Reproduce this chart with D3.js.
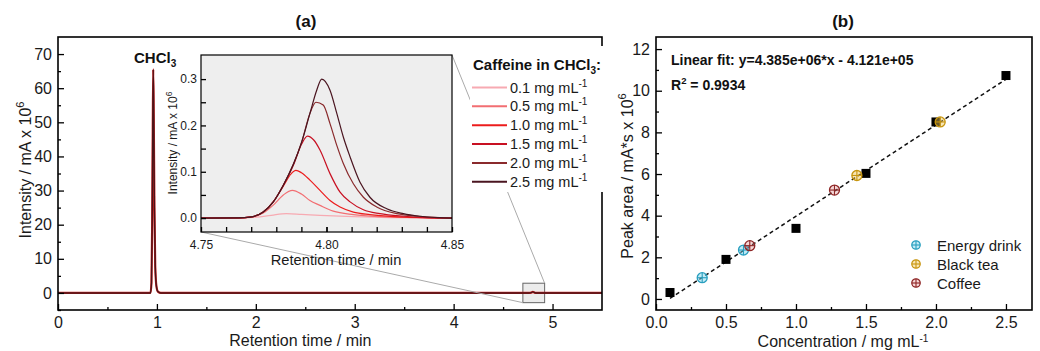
<!DOCTYPE html>
<html><head><meta charset="utf-8">
<script src="https://cdn.jsdelivr.net/npm/d3@7"></script>
<style>
body{margin:0;background:#fff;}
svg{font-family:"Liberation Sans",Arial,sans-serif;}
</style>
</head><body>
<svg id="c" width="1040" height="351"></svg>
<script>
// ---------------- DATA ----------------
// Panel (a): full chromatogram (min, mA x 10^6)
const mainTime      = [0, 0.90, 0.935, 0.945, 0.952, 0.958, 0.963, 0.968, 0.975, 0.983, 0.995, 1.01, 1.04, 4.76, 4.785, 4.80, 4.83, 5.5];
const mainIntensity = [0, 0,    0,     3,     20,    48,    65.5,  52,    25,    8,     2,     0.4,  0,    0,    0.1,   0.3,  0,    0];

// Inset: caffeine peaks for each concentration [time, intensity]
const concLabels = ["0.1", "0.5", "1.0", "1.5", "2.0", "2.5"];
const trace01 = [[4.75,0],[4.765,0],[4.772,0.002],[4.778,0.006],[4.784,0.0095],[4.790,0.008],[4.7974,0.006],[4.8107,0.003],[4.825,0.001],[4.85,0]];
const trace05 = [[4.75,0],[4.765,0.0005],[4.770,0.002],[4.7748,0.011],[4.7788,0.028],[4.7828,0.050],[4.7864,0.060],[4.790,0.052],[4.7934,0.038],[4.7974,0.0275],[4.8027,0.015],[4.8107,0.0075],[4.8213,0.003],[4.835,0.001],[4.85,0]];
const trace10 = [[4.75,0],[4.765,0.0005],[4.7695,0.002],[4.7748,0.013],[4.7788,0.035],[4.7828,0.069],[4.7858,0.095],[4.7878,0.103],[4.790,0.098],[4.7934,0.082],[4.7974,0.060],[4.8014,0.038],[4.8054,0.024],[4.8107,0.013],[4.8173,0.0075],[4.827,0.003],[4.838,0.001],[4.85,0]];
const trace15 = [[4.75,0],[4.765,0.0005],[4.7695,0.002],[4.7748,0.013],[4.7788,0.035],[4.7828,0.071],[4.7868,0.114],[4.7901,0.160],[4.7924,0.177],[4.7950,0.168],[4.7974,0.147],[4.8014,0.096],[4.8054,0.056],[4.8094,0.035],[4.8147,0.018],[4.8213,0.0095],[4.8306,0.004],[4.840,0.001],[4.85,0]];
const trace20 = [[4.75,0],[4.765,0.0005],[4.7695,0.002],[4.7748,0.013],[4.7788,0.035],[4.7828,0.071],[4.7868,0.116],[4.7901,0.164],[4.7934,0.226],[4.7958,0.250],[4.7987,0.244],[4.8014,0.204],[4.8041,0.157],[4.8067,0.118],[4.8107,0.074],[4.8147,0.045],[4.820,0.024],[4.828,0.0095],[4.837,0.004],[4.845,0.001],[4.85,0]];
const trace25 = [[4.75,0],[4.765,0.0005],[4.7695,0.002],[4.7748,0.013],[4.7788,0.035],[4.7828,0.071],[4.7868,0.116],[4.7901,0.164],[4.7934,0.226],[4.7961,0.276],[4.7981,0.300],[4.8014,0.276],[4.8041,0.226],[4.8067,0.175],[4.8094,0.132],[4.8133,0.078],[4.8173,0.045],[4.824,0.020],[4.8306,0.0095],[4.837,0.004],[4.845,0.001],[4.85,0]];
const traceColors = ["#f7aab2", "#f26e72", "#ec1c1c", "#c81022", "#8a2a2c", "#4a1520"];

// Panel (b): calibration (mg/mL, mA*s x 10^6)
const stdConc    = [0.1, 0.5, 1.0, 1.5, 2.0, 2.5];
const stdArea    = [0.31, 1.90, 3.39, 6.03, 8.50, 10.73];
const energyConc = [0.33, 0.625];
const energyArea = [1.02, 2.35];
const teaConc    = [1.435, 2.03];
const teaArea    = [5.93, 8.50];
const coffeeConc = [0.67, 1.275];
const coffeeArea = [2.56, 5.23];
const fitSlope = 4.385, fitIntercept = -0.4121;
const sampleNames  = ["Energy drink", "Black tea", "Coffee"];
const sampleStroke = ["#2a9fbf", "#c89610", "#8e2626"];
const sampleFill   = ["rgba(120,210,235,0.45)", "rgba(240,200,90,0.45)", "rgba(230,140,140,0.35)"];

const xTicksA = [0,1,2,3,4,5];
const yTicksA = [0,10,20,30,40,50,60,70];
const xTicksI = [4.75,4.80,4.85];
const yTicksI = [0.0,0.1,0.2,0.3];
const xTicksB = [0.0,0.5,1.0,1.5,2.0,2.5];
const yTicksB = [0,2,4,6,8,10,12];

// ---------------- DRAW ----------------
const svg = d3.select("#c");

function axes(g, x, y, box, xt, yt, xm, ym, xf, yf, fs, padX, padY, major, minor, fw){
  const gx = g.append("g").attr("transform",`translate(0,${box.b})`)
    .call(d3.axisBottom(x).tickValues(xt).tickFormat(xf).tickSize(-major).tickSizeOuter(0).tickPadding(padX));
  const gxm = g.append("g").attr("transform",`translate(0,${box.b})`)
    .call(d3.axisBottom(x).tickValues(xm).tickFormat("").tickSize(-minor).tickSizeOuter(0));
  const gy = g.append("g").attr("transform",`translate(${box.l},0)`)
    .call(d3.axisLeft(y).tickValues(yt).tickFormat(yf).tickSize(-major).tickSizeOuter(0).tickPadding(padY));
  const gym = g.append("g").attr("transform",`translate(${box.l},0)`)
    .call(d3.axisLeft(y).tickValues(ym).tickFormat("").tickSize(-minor).tickSizeOuter(0));
  [gx,gxm,gy,gym].forEach(a=>{
    a.select(".domain").remove();
    a.selectAll(".tick line").attr("stroke","#000").attr("stroke-width",1.3);
    a.selectAll(".tick text").attr("fill","#1a1a1a").style("font-size",fs+"px").style("font-family","'Liberation Sans',Arial,sans-serif");
  });
  g.append("rect").attr("x",box.l).attr("y",box.t).attr("width",box.r-box.l).attr("height",box.b-box.t)
    .attr("fill","none").attr("stroke","#000").attr("stroke-width",fw);
}

// ===== Panel (a) =====
const A = {l:58, r:602, t:37, b:310};
const xA = d3.scaleLinear().domain([0,5.5]).range([A.l,A.r]);
const yA = d3.scaleLinear().domain([-5,75]).range([A.b,A.t]);
const gA = svg.append("g");

// zoom box in main plot
const zoomBox = {x0:4.70, x1:4.92, y0:-2.85, y1:2.85};
gA.append("rect").attr("x",xA(zoomBox.x0)).attr("y",yA(zoomBox.y1))
  .attr("width",xA(zoomBox.x1)-xA(zoomBox.x0)).attr("height",yA(zoomBox.y0)-yA(zoomBox.y1))
  .attr("fill","#ececec").attr("stroke","#666").attr("stroke-width",1);

const mainData = mainTime.map((t,i)=>[t, mainIntensity[i]]);
const lineA = d3.line().x(d=>xA(d[0])).y(d=>yA(d[1])).curve(d3.curveMonotoneX);
gA.append("path").datum(mainData).attr("d", lineA)
  .attr("fill","none").attr("stroke","#d02020").attr("stroke-width",2.2);
gA.append("path").datum(mainData).attr("d", lineA)
  .attr("fill","none").attr("stroke","#4a1418").attr("stroke-width",1.4);

axes(gA, xA, yA, A, xTicksA, yTicksA, [0.5,1.5,2.5,3.5,4.5], [-5,5,15,25,35,45,55,65], d3.format("d"), d3.format("d"), 16, 7, 6, 6, 3, 1.6);

// CHCl3 label
const chcl = gA.append("text").attr("x",134).attr("y",63).attr("font-weight","bold").style("font-size","15px").attr("fill","#111");
chcl.append("tspan").text("CHCl");
chcl.append("tspan").attr("dy",4).style("font-size","10px").text("3");

// axis titles
const ytA = svg.append("text").attr("transform","translate(31,170) rotate(-90)").attr("text-anchor","middle").style("font-size","16px").attr("fill","#1a1a1a");
ytA.append("tspan").text("Intensity  / mA x 10");
ytA.append("tspan").attr("dy",-7).style("font-size","11px").text("6");
svg.append("text").attr("x",xA(2.45)).attr("y",346).attr("text-anchor","middle").style("font-size","16px").attr("fill","#1a1a1a").text("Retention time / min");
svg.append("text").attr("x",306).attr("y",27).attr("text-anchor","middle").attr("font-weight","bold").style("font-size","17px").attr("fill","#111").text("(a)");

// ===== Inset =====
const I = {l:201, r:452, t:55, b:232};
const xI = d3.scaleLinear().domain([4.75,4.85]).range([I.l,I.r]);
const yI = d3.scaleLinear().domain([-0.03,0.352]).range([I.b,I.t]);

// connector lines
svg.append("line").attr("x1",I.r).attr("y1",I.t).attr("x2",xA(zoomBox.x1)).attr("y2",yA(zoomBox.y1)).attr("stroke","#aaa").attr("stroke-width",1);
svg.append("line").attr("x1",I.l).attr("y1",I.b).attr("x2",xA(zoomBox.x0)).attr("y2",yA(zoomBox.y0)).attr("stroke","#aaa").attr("stroke-width",1);

const gI = svg.append("g");
gI.append("rect").attr("x",I.l).attr("y",I.t).attr("width",I.r-I.l).attr("height",I.b-I.t).attr("fill","#eeeeee");
svg.append("clipPath").attr("id","clipI").append("rect").attr("x",I.l).attr("y",I.t).attr("width",I.r-I.l).attr("height",I.b-I.t);
const traces = [trace01, trace05, trace10, trace15, trace20, trace25];
const lineI = d3.line().x(d=>xI(d[0])).y(d=>yI(d[1])).curve(d3.curveMonotoneX);
gI.append("g").attr("clip-path","url(#clipI)").selectAll("path").data(traces).join("path")
  .attr("d", lineI).attr("fill","none").attr("stroke",(d,i)=>traceColors[i]).attr("stroke-width",1.2);

axes(gI, xI, yI, I, xTicksI, yTicksI, d3.range(4.76,4.845,0.01), [0.05, 0.15, 0.25], d3.format(".2f"), d3.format(".1f"), 12, 8, 4, 5, 5, 1.2);

const ytI = svg.append("text").attr("transform","translate(177,143) rotate(-90)").attr("text-anchor","middle").style("font-size","12px").attr("fill","#1a1a1a");
ytI.append("tspan").text("Intensity / mA x 10");
ytI.append("tspan").attr("dy",-5).style("font-size","8.5px").text("6");
svg.append("text").attr("x",336).attr("y",265).attr("text-anchor","middle").style("font-size","14.7px").attr("fill","#1a1a1a").text("Retention time / min");

// ===== Legend (a) =====
const gL = svg.append("g");
gL.append("rect").attr("x",470).attr("y",46).attr("width",160).attr("height",146).attr("fill","#fff");
const lt = gL.append("text").attr("x",473).attr("y",70).attr("font-weight","bold").style("font-size","15px").attr("fill","#111");
lt.append("tspan").text("Caffeine in CHCl");
lt.append("tspan").attr("dy",4).style("font-size","10px").text("3");
lt.append("tspan").attr("dy",-4).text(":");
concLabels.forEach((c,i)=>{
  const cy = 87.5 + i*18.85;
  gL.append("line").attr("x1",472).attr("x2",507).attr("y1",cy).attr("y2",cy).attr("stroke",traceColors[i]).attr("stroke-width",2);
  const t = gL.append("text").attr("x",510).attr("y",cy+5).style("font-size","14.5px").attr("fill","#1a1a1a");
  t.append("tspan").text(c + " mg mL");
  t.append("tspan").attr("dy",-6).style("font-size","10px").text("-1");
});

// ===== Panel (b) =====
const B = {l:656, r:1032, t:37, b:310};
const xB = d3.scaleLinear().domain([0,2.686]).range([B.l,B.r]);
const yB = d3.scaleLinear().domain([-0.53,12.58]).range([B.b,B.t]);
const gB = svg.append("g");
axes(gB, xB, yB, B, xTicksB, yTicksB, [0.25,0.75,1.25,1.75,2.25], [1,3,5,7,9,11], d3.format(".1f"), d3.format("d"), 16, 7, 6, 6, 3, 1.6);

// fit line
const fitX = [stdConc[0], stdConc[stdConc.length-1]];
gB.append("line").attr("x1",xB(fitX[0])).attr("y1",yB(fitSlope*fitX[0]+fitIntercept))
  .attr("x2",xB(fitX[1])).attr("y2",yB(fitSlope*fitX[1]+fitIntercept))
  .attr("stroke","#111").attr("stroke-width",1.5).attr("stroke-dasharray","4,3");

// standards (squares)
const sq = 9;
gB.selectAll("rect.std").data(stdConc).join("rect").attr("class","std")
  .attr("x",(d)=>xB(d)-sq/2).attr("y",(d,i)=>yB(stdArea[i])-sq/2).attr("width",sq).attr("height",sq).attr("fill","#000");

function crossCircle(g, cx, cy, r, stroke, fill){
  g.append("circle").attr("cx",cx).attr("cy",cy).attr("r",r).attr("fill",fill).attr("stroke",stroke).attr("stroke-width",1.3);
  g.append("line").attr("x1",cx-r).attr("x2",cx+r).attr("y1",cy).attr("y2",cy).attr("stroke",stroke).attr("stroke-width",1.1);
  g.append("line").attr("x1",cx).attr("x2",cx).attr("y1",cy-r).attr("y2",cy+r).attr("stroke",stroke).attr("stroke-width",1.1);
}
const sampleSets = [[energyConc,energyArea],[teaConc,teaArea],[coffeeConc,coffeeArea]];
sampleSets.forEach((s,k)=>{
  s[0].forEach((c,i)=>crossCircle(gB, xB(c), yB(s[1][i]), 5, sampleStroke[k], sampleFill[k]));
});

// legend (b)
sampleNames.forEach((n,k)=>{
  const cy = 245 + k*19;
  crossCircle(gB, 916, cy, 4.2, sampleStroke[k], sampleFill[k]);
  gB.append("text").attr("x",937).attr("y",cy+5.5).style("font-size","15px").attr("fill","#1a1a1a").text(n);
});

// annotations
gB.append("text").attr("x",671).attr("y",65).attr("font-weight","bold").style("font-size","14px").attr("fill","#111")
  .text("Linear fit: y=4.385e+06*x - 4.121e+05");
const r2 = gB.append("text").attr("x",671).attr("y",90).attr("font-weight","bold").style("font-size","14px").attr("fill","#111");
r2.append("tspan").text("R");
r2.append("tspan").attr("dy",-6).style("font-size","9.5px").text("2");
r2.append("tspan").attr("dy",6).text(" = 0.9934");

const ytB = svg.append("text").attr("transform","translate(633,176) rotate(-90)").attr("text-anchor","middle").style("font-size","16px").attr("fill","#1a1a1a");
ytB.append("tspan").text("Peak area / mA*s x 10");
ytB.append("tspan").attr("dy",-7).style("font-size","11px").text("6");
const xtB = svg.append("text").attr("x",843).attr("y",347).attr("text-anchor","middle").style("font-size","16px").attr("fill","#1a1a1a");
xtB.append("tspan").text("Concentration / mg mL");
xtB.append("tspan").attr("dy",-5.5).style("font-size","10px").text("-1");
svg.append("text").attr("x",843).attr("y",27).attr("text-anchor","middle").attr("font-weight","bold").style("font-size","17px").attr("fill","#111").text("(b)");
</script>
</body></html>
